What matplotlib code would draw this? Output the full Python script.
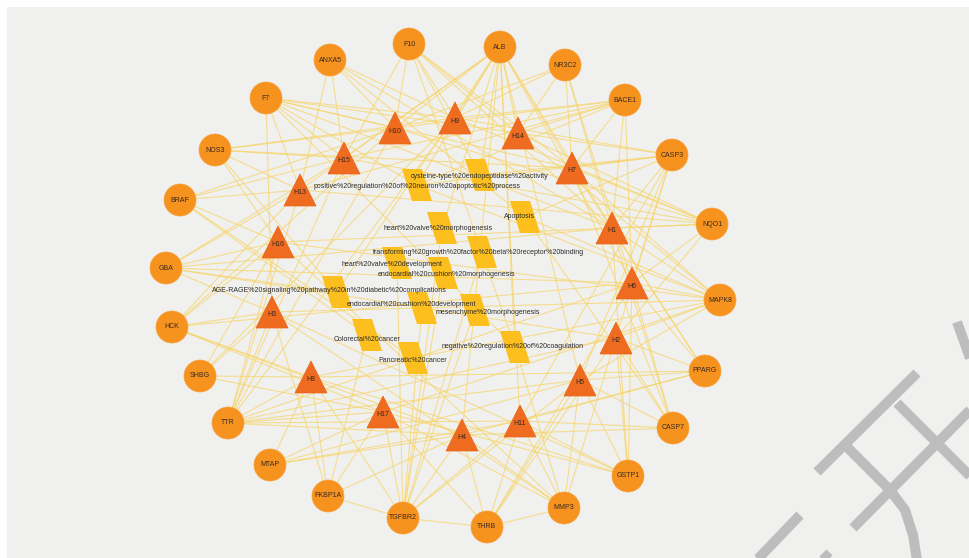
import matplotlib
matplotlib.use("Agg")
import matplotlib.pyplot as plt
from matplotlib.patches import Circle, Polygon, Rectangle
from matplotlib.lines import Line2D

plt.rcParams['font.family'] = ['Liberation Sans Narrow', 'Liberation Sans', 'DejaVu Sans']

# target genes (circles), layout positions (pixels)
gene_names = ['F10', 'ALB', 'NR3C2', 'BACE1', 'CASP3', 'NQO1', 'MAPK8', 'PPARG',
              'CASP7', 'GSTP1', 'MMP3', 'THRB', 'TGFBR2', 'FKBP1A', 'MTAP', 'TTR',
              'SHBG', 'HCK', 'GBA', 'BRAF', 'NOS3', 'F7', 'ANXA5']
gene_x = [409, 500, 565, 625, 672, 712, 720, 705, 673, 628, 564, 487, 403, 328,
          270, 228, 200, 172, 166, 180, 215, 266, 330]
gene_y = [44, 47, 65, 100, 155, 224, 300, 371, 428, 476, 508, 527, 518, 496,
          465, 423, 376, 327, 268, 200, 150, 98, 60]

# compounds (triangles)
comp_names = ['H10', 'H9', 'H14', 'H15', 'H7', 'H13', 'H16', 'H1', 'H6', 'H3',
              'H2', 'H8', 'H5', 'H17', 'H11', 'H4']
comp_x = [395, 455, 518, 344, 572, 300, 278, 612, 632, 272, 616, 311, 580, 383, 520, 462]
comp_y = [128, 118, 133, 158, 168, 190, 242, 228, 283, 312, 338, 377, 380, 412, 421, 435]

# pathways / GO terms (parallelograms)
path_ids = ['cys', 'pos', 'apop', 'hvm', 'tgf', 'hvd', 'ecm', 'age', 'ecd', 'mes',
            'col', 'pan', 'neg']
path_labels = ['cysteine-type%20endopeptidase%20activity',
               'positive%20regulation%20of%20neuron%20apoptotic%20process',
               'Apoptosis',
               'heart%20valve%20morphogenesis',
               'transforming%20growth%20factor%20beta%20receptor%20binding',
               'heart%20valve%20development',
               'endocardial%20cushion%20morphogenesis',
               'AGE-RAGE%20signaling%20pathway%20in%20diabetic%20complications',
               'endocardial%20cushion%20development',
               'mesenchyme%20morphogenesis',
               'Colorectal%20cancer',
               'Pancreatic%20cancer',
               'negative%20regulation%20of%20coagulation']
path_x = [480, 417, 525, 442, 482, 397, 443, 337, 422, 475, 367, 413, 515]
path_y = [175, 185, 217, 228, 252, 263, 273, 292, 308, 310, 335, 358, 347]
label_x = [480, 417, 519, 438, 478, 392, 447, 329, 412, 488, 367, 413, 513]
label_y = [176, 186, 217, 229, 253, 264, 274, 291, 305, 313, 340, 361, 347]

# edges (gene -> partners)
gene_links = {
    'ALB': ['H9', 'H10', 'H14', 'H7', 'H15', 'H13', 'H1', 'H11', 'H4', 'pos', 'cys',
            'hvm', 'age', 'neg', 'H5', 'H6'],
    'F10': ['H10', 'H9', 'H14', 'H7', 'H1', 'neg', 'cys', 'H15'],
    'ANXA5': ['H10', 'H9', 'H13', 'apop', 'H1', 'H15'],
    'F7': ['H13', 'H15', 'H10', 'H9', 'H14', 'H7', 'H1', 'neg', 'H3', 'pos'],
    'NOS3': ['H13', 'H15', 'H10', 'H9', 'age', 'H16', 'H7'],
    'BRAF': ['H16', 'H13', 'H15', 'col', 'pan', 'H10'],
    'GBA': ['H16', 'H13', 'H3', 'H1', 'H6', 'H2', 'age', 'H15'],
    'HCK': ['H3', 'H16', 'H8', 'H17', 'H4', 'H6', 'H13', 'H10'],
    'SHBG': ['H8', 'H3', 'H16', 'H17', 'H9'],
    'TTR': ['H8', 'H17', 'H4', 'H11', 'H5', 'H2', 'H6', 'H3', 'H16', 'H13', 'H15',
            'H10', 'H9'],
    'MTAP': ['H8', 'H17', 'H4', 'H5', 'H11'],
    'FKBP1A': ['H8', 'H17', 'H4', 'H3', 'col', 'TGFBR2'],
    'TGFBR2': ['H17', 'H4', 'H11', 'H5', 'H8', 'tgf', 'hvm', 'hvd', 'ecm', 'ecd',
               'mes', 'THRB'],
    'THRB': ['H4', 'H11', 'H5', 'H2', 'H6', 'H17', 'MMP3'],
    'MMP3': ['H11', 'H5', 'H2', 'H4', 'H17', 'neg', 'H16', 'H3'],
    'GSTP1': ['H5', 'H2', 'H6', 'H1', 'H11', 'H8', 'H17', 'H3'],
    'CASP7': ['H5', 'H2', 'H6', 'H1', 'H7', 'apop', 'H11', 'H4'],
    'PPARG': ['H2', 'H6', 'H1', 'H7', 'H5', 'H11', 'H4', 'H8'],
    'MAPK8': ['H6', 'H1', 'H2', 'H5', 'H7', 'H14', 'apop', 'pos', 'H8', 'H3', 'H16',
              'H17'],
    'NQO1': ['H1', 'H7', 'H14', 'H6', 'H2', 'H9', 'H10', 'H15', 'H13', 'H16'],
    'CASP3': ['H7', 'H1', 'H14', 'H9', 'H6', 'apop', 'cys', 'pos', 'H2', 'H5', 'H11'],
    'BACE1': ['H14', 'H7', 'H9', 'H10', 'H1', 'H15', 'H13', 'pos', 'H6'],
    'NR3C2': ['H14', 'H9', 'H10', 'H7', 'H1', 'H6'],
}

# light grey watermark strokes in the lower right corner
watermark = [
    [(817, 472), (917, 373)],
    [(846, 446), (890, 490), (905, 510), (913, 535), (917, 560)],
    [(897, 403), (975, 481)],
    [(853, 528), (975, 405)],
    [(755, 562), (800, 515)],
    [(957, 322), (975, 372)],
    [(823, 553), (832, 562)],
]


def node_positions():
    """
    name -> (x, y) for every node
    """
    pos = {}
    for n, x, y in zip(gene_names, gene_x, gene_y):
        pos[n] = (x, y)
    for n, x, y in zip(comp_names, comp_x, comp_y):
        pos[n] = (x, y)
    for n, x, y in zip(path_ids, path_x, path_y):
        pos[n] = (x, y)
    return pos


def plot_network():
    fig = plt.figure(figsize=(9.7, 5.58), dpi=100)
    fig.patch.set_facecolor('white')
    ax = fig.add_axes([0, 0, 1, 1])
    ax.set_xlim(0, 970)
    ax.set_ylim(558, 0)
    ax.set_aspect('equal')
    ax.axis('off')

    ax.add_patch(Rectangle((7, 7), 970, 560, facecolor='#f0f0ef', edgecolor='none', zorder=0))

    for pts in watermark:
        xs, ys = zip(*pts)
        ax.add_line(Line2D(xs, ys, color='#bdbdbd', lw=7.2, solid_capstyle='butt', zorder=1))

    pos = node_positions()
    for g, partners in gene_links.items():
        x0, y0 = pos[g]
        for p in partners:
            x1, y1 = pos[p]
            ax.plot([x0, x1], [y0, y1], color='#f7d465', lw=0.8, alpha=0.7, zorder=2)

    for n, x, y in zip(gene_names, gene_x, gene_y):
        ax.add_patch(Circle((x, y), 16, facecolor='#f6921e', edgecolor='#f6a13c', lw=0.5, zorder=4))
        ax.text(x, y, n, ha='center', va='center', fontsize=5, color='#3a2a20', zorder=6)

    for n, x, y in zip(comp_names, comp_x, comp_y):
        tri = [(x, y - 16), (x + 16, y + 16), (x - 16, y + 16)]
        ax.add_patch(Polygon(tri, closed=True, facecolor='#ef6b1f', edgecolor='#e8641a', lw=0.5, zorder=4))
        ax.text(x, y + 3, n, ha='center', va='center', fontsize=5, color='#3a2a20', zorder=6)

    for x, y in zip(path_x, path_y):
        quad = [(x - 15, y - 16), (x + 5, y - 16), (x + 15, y + 16), (x - 5, y + 16)]
        ax.add_patch(Polygon(quad, closed=True, facecolor='#fdbf1e', edgecolor='none', zorder=3))
    for lab, x, y in zip(path_labels, label_x, label_y):
        ax.text(x, y, lab, ha='center', va='center', fontsize=5, color='#2b2b2b', zorder=6)

    fig.savefig('out.png', dpi=100, facecolor=fig.get_facecolor())


plot_network()
